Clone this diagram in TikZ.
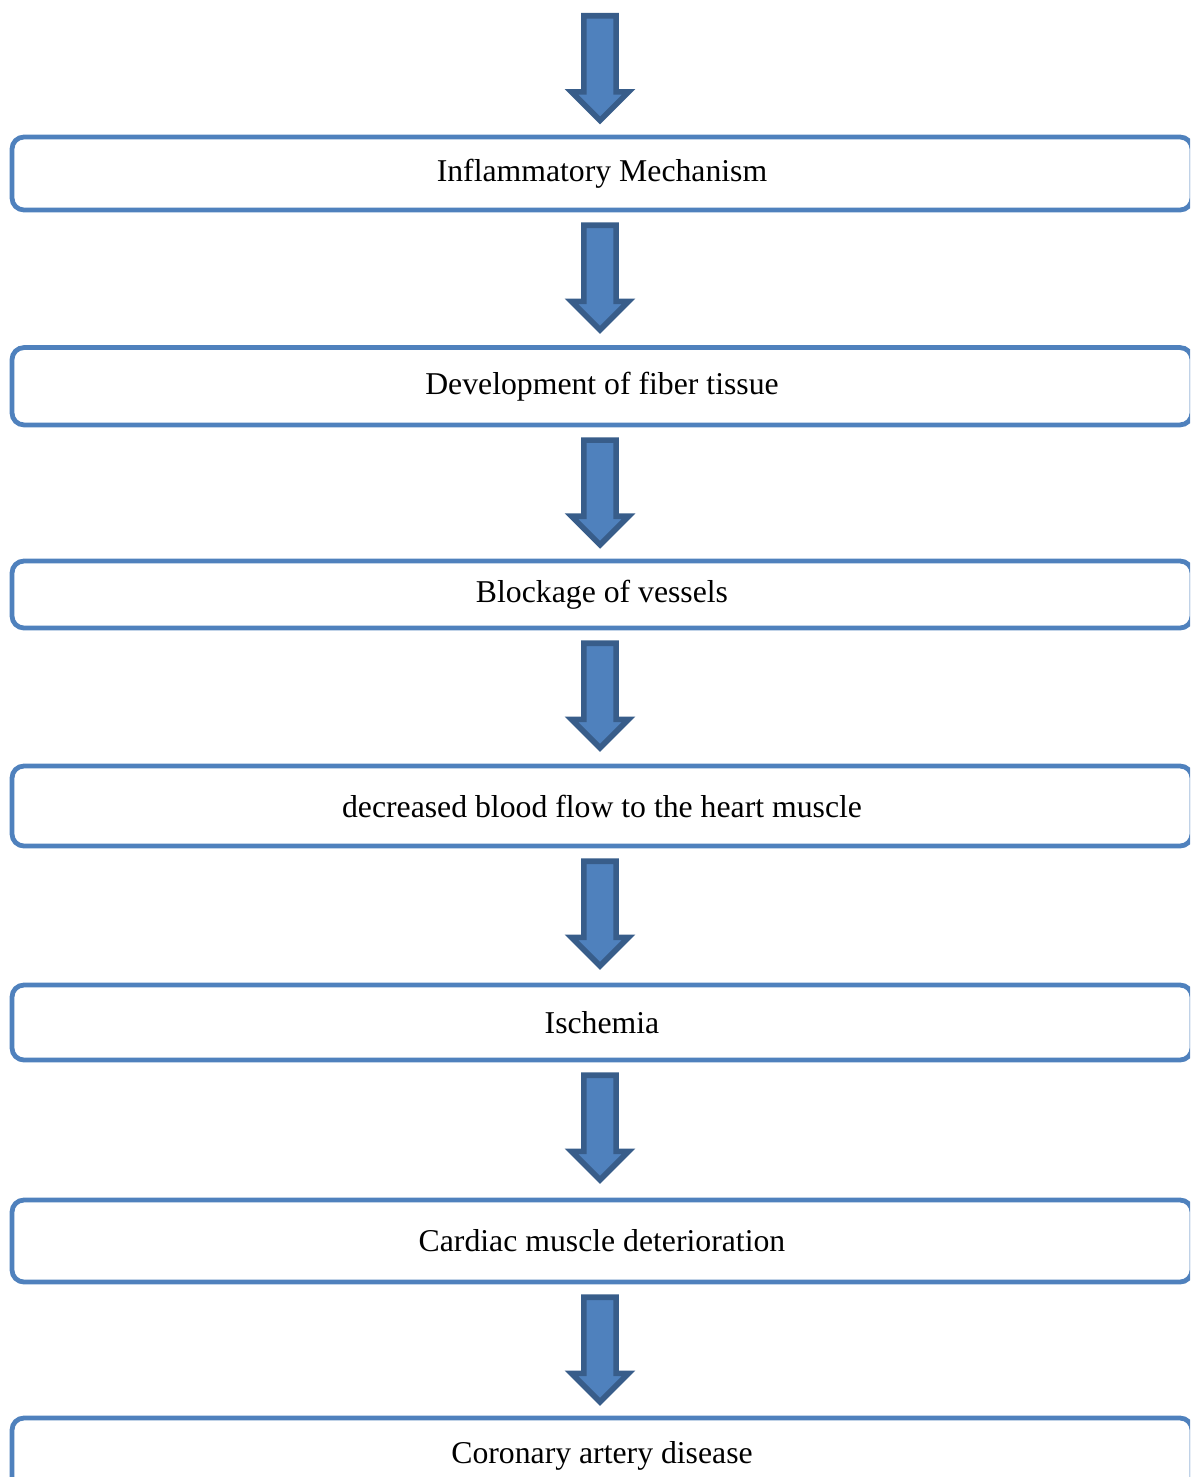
\documentclass[tikz,border=0pt]{standalone}
\usepackage{fontspec}
\setmainfont{Liberation Serif}
\usetikzlibrary{shapes.arrows,calc}
\definecolor{boxblue}{RGB}{79,129,189}
\definecolor{arrowedge}{RGB}{56,93,138}
\begin{document}
\begin{tikzpicture}[x=0.75pt,y=-0.75pt]

      \tikzset{stage/.style={draw=boxblue, line width=3.6pt, rounded corners=9pt, fill=white, minimum width=885pt, inner sep=0pt, font=\fontsize{23.8}{28}\selectfont},
               downarrow/.style={single arrow, draw=arrowedge, fill=boxblue, line width=4.2pt, rotate=-90, anchor=tail, minimum height=78.5pt, minimum width=40pt, single arrow head extend=9.3pt, inner xsep=0pt, inner ysep=10pt}}
      \useasboundingbox (0,0) rectangle (1190,1477);
      \clip (0,0) rectangle (1190,1477);
%% Boxes
      	\node[stage, minimum height=54.75pt] (b1) at (602,173.5) {Inflammatory Mechanism};
      	\node[stage, minimum height=58pt] (b2) at (602,386.25) {Development of fiber tissue};
      	\node[stage, minimum height=50.25pt] (b3) at (602,594.5) {Blockage of vessels};
      	\node[stage, minimum height=60pt] (b4) at (602,806) {decreased blood flow to the heart muscle};
      	\node[stage, minimum height=56.25pt] (b5) at (602,1022.5) {Ischemia};
      	\node[stage, minimum height=61.5pt] (b6) at (602,1241) {Cardiac muscle deterioration};
      	\node[stage, minimum height=57pt] (b7) at (602,1456) {Coronary artery disease};
%Arrows
      	\node[downarrow] (a0) at (600,13) {};
      	\node[downarrow] (a1) at ($(b1.south)+(-2,10)$) {};
      	\node[downarrow] (a2) at ($(b2.south)+(-2,10)$) {};
      	\node[downarrow] (a3) at ($(b3.south)+(-2,10)$) {};
      	\node[downarrow] (a4) at ($(b4.south)+(-2,10)$) {};
      	\node[downarrow] (a5) at ($(b5.south)+(-2,10)$) {};
      	\node[downarrow] (a6) at ($(b6.south)+(-2,10)$) {};

\end{tikzpicture}
\end{document}
